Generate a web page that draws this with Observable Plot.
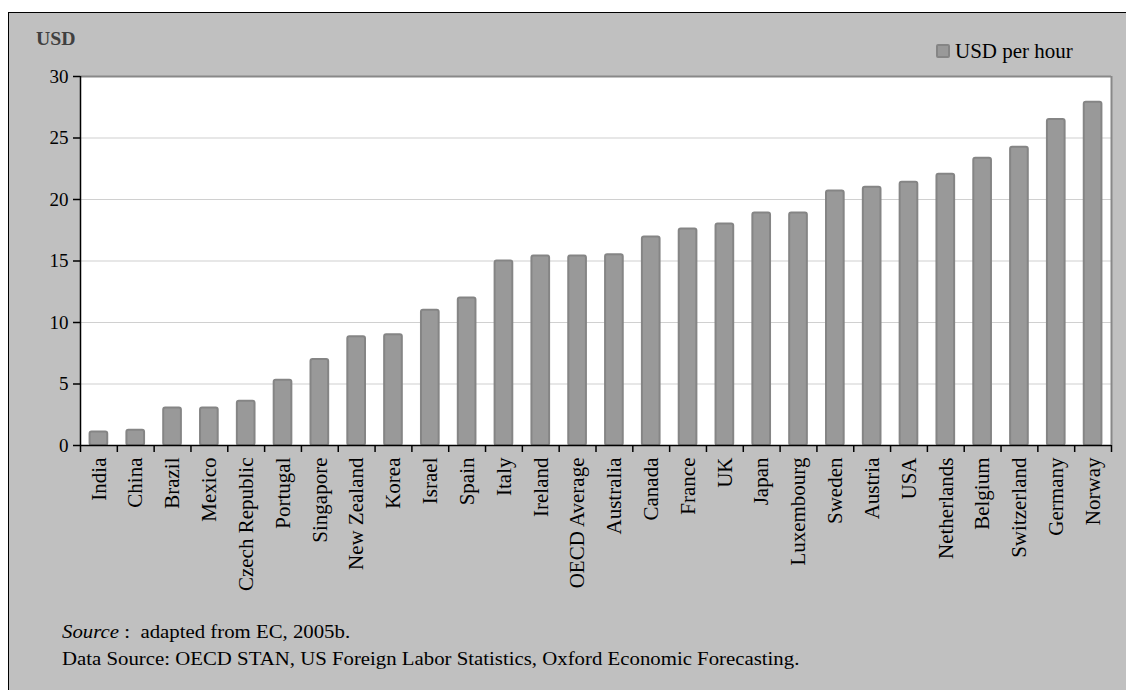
<!DOCTYPE html>
<html>
<head>
<meta charset="utf-8">
<script src="https://cdn.jsdelivr.net/npm/d3@7"></script>
<script src="https://cdn.jsdelivr.net/npm/@observablehq/plot@0.6"></script>
<style>
  html, body { margin: 0; padding: 0; background: #fff; }
  #page { position: relative; width: 1126px; height: 690px; overflow: hidden; background: #fff; font-family: 'Liberation Serif'; }
  #box { position: absolute; left: 8px; top: 12px; width: 1140px; height: 700px; background: #c0c0c0; border: 1.5px solid #000; box-sizing: border-box; }
  #chart { position: absolute; left: 0; top: 0; }
  .unit { position: absolute; left: 36px; top: 28px; font-weight: bold; font-size: 19px; color: #404040; line-height: 22px; transform: scaleX(1.04); transform-origin: left center; }
  .legend { position: absolute; left: 936px; top: 40px; font-size: 20px; line-height: 22px; color: #000; display: flex; align-items: center; }
  .legend .sw { width: 10px; height: 10px; background: #999; border: 2px solid #858585; border-radius: 2px; margin-right: 5px; }
  .legend .lt { display: inline-block; transform: scaleX(1.05); transform-origin: left center; }
  .src { position: absolute; left: 62px; font-size: 19px; line-height: 22px; color: #000; white-space: nowrap; transform: scaleX(1.095); transform-origin: left center; }
</style>
</head>
<body>
<div id="page">
  <div id="box"></div>
  <div id="chart"></div>
  <div class="unit">USD</div>
  <div class="legend"><span class="sw"></span><span class="lt">USD per hour</span></div>
  <div class="src" style="top:621px;"><i>Source</i> :&nbsp; adapted from EC, 2005b.</div>
  <div class="src" style="top:648px;">Data Source: OECD STAN, US Foreign Labor Statistics, Oxford Economic Forecasting.</div>
</div>
<script>
const categories = ["India","China","Brazil","Mexico","Czech Republic","Portugal","Singapore","New Zealand","Korea","Israel","Spain","Italy","Ireland","OECD Average","Australia","Canada","France","UK","Japan","Luxembourg","Sweden","Austria","USA","Netherlands","Belgium","Switzerland","Germany","Norway"];
const usdPerHour = [1.1,1.25,3.05,3.05,3.6,5.3,7.0,8.85,9.0,11.0,12.0,15.0,15.4,15.4,15.5,16.95,17.6,18.0,18.9,18.9,20.7,21.0,21.4,22.05,23.35,24.25,26.5,27.9];
const yTicks = [0,5,10,15,20,25,30];

const data = categories.map((c, i) => ({i, c, v: usdPerHour[i]}));
const n = categories.length;
const boundaries = d3.range(n + 1);
const centers = d3.range(n).map(i => i + 0.5);

const chart = Plot.plot({
  width: 1126,
  height: 600,
  marginLeft: 80,
  marginRight: 15,
  marginTop: 76,
  marginBottom: 155,
  style: {background: "transparent", fontFamily: "Liberation Serif", fontSize: "19px", color: "#000"},
  x: {domain: [0, n], axis: null},
  y: {domain: [0, 30], axis: null},
  marks: [
    Plot.frame({fill: "white", stroke: "none"}),
    Plot.ruleY([5,10,15,20,25], {stroke: "#d0d0d0", strokeWidth: 1.2}),
    Plot.ruleY([30], {stroke: "#888", strokeWidth: 2}),
    Plot.ruleX([n], {stroke: "#888", strokeWidth: 2}),
    Plot.rectY(data, {x1: d => d.i + 0.26, x2: d => d.i + 0.74, y: "v", fill: "#999", stroke: "#858585", strokeWidth: 2, rx: 2}),
    Plot.ruleX([0], {stroke: "#000", strokeWidth: 1.5}),
    Plot.ruleY([0], {stroke: "#000", strokeWidth: 1.5}),
    Plot.axisY({ticks: yTicks, tickSize: 7, tickPadding: 5, label: null, stroke: "#000", strokeWidth: 1.5, fill: "#000", fontSize: 19}),
    Plot.axisX({ticks: boundaries, tickSize: 7, tickFormat: () => "", label: null, stroke: "#000", strokeWidth: 1.5}),
    Plot.axisX({ticks: centers, tickSize: 0, tickPadding: 12, tickRotate: -90, tickFormat: d => categories[Math.floor(d)], label: null, fill: "#000", fontSize: 21})
  ]
});
document.getElementById("chart").appendChild(chart);
</script>
</body>
</html>
